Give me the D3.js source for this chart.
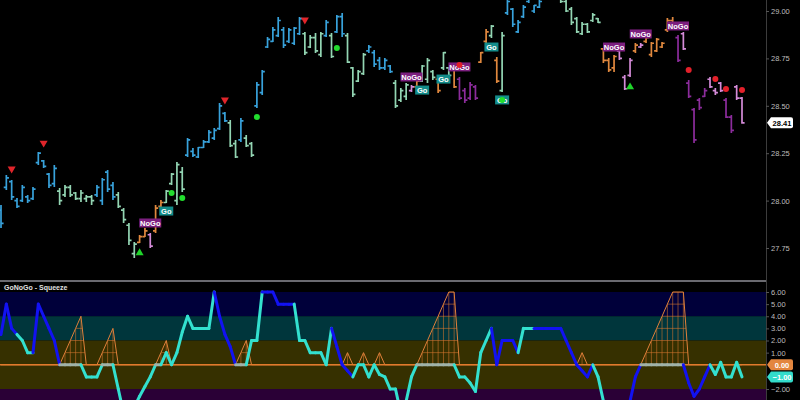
<!DOCTYPE html>
<html><head><meta charset="utf-8">
<script src="https://cdn.jsdelivr.net/npm/d3@7"></script>
<style>html,body{margin:0;background:#000;}svg{display:block}</style>
</head><body><svg id="c" width="800" height="400"></svg>
<script>
// ---------- DATA ----------
const highs=[27.977,28.135,28.109,28.014,28.082,28.030,28.072,28.256,28.214,28.146,
28.188,28.066,28.082,28.082,28.045,28.056,28.030,28.030,28.082,28.119,
28.161,28.098,28.045,27.961,27.882,27.782,27.819,27.856,27.829,27.977,
28.003,28.056,28.146,28.204,28.177,28.330,28.277,28.283,28.320,28.372,
28.383,28.515,28.467,28.425,28.320,28.436,28.346,28.309,28.626,28.689,
28.863,28.916,28.968,28.916,28.910,28.916,28.968,28.889,28.873,28.884,
28.889,28.953,28.884,28.979,28.989,28.884,28.705,28.689,28.778,28.821,
28.794,28.757,28.752,28.715,28.636,28.594,28.620,28.610,28.636,28.715,
28.752,28.689,28.647,28.784,28.705,28.699,28.652,28.594,28.626,28.610,
28.784,28.905,28.926,28.757,28.889,29.058,29.016,28.953,29.032,29.111,
29.032,29.058,29.163,29.137,29.111,29.084,29.058,29.021,28.968,28.942,
28.937,28.989,28.963,28.805,28.752,28.768,28.805,28.662,28.752,28.831,
28.831,28.863,28.837,28.858,28.837,28.963,28.968,28.873,28.889,28.636,
28.488,28.541,28.594,28.652,28.594,28.626,28.541,28.452,28.610,28.546];
const lows=[27.856,28.056,28.003,27.961,27.993,27.987,28.003,28.188,28.172,28.066,
28.072,27.977,28.019,28.019,28.003,27.993,27.993,27.977,28.019,27.977,
28.045,28.003,27.961,27.882,27.766,27.697,27.776,27.808,27.750,27.829,
27.961,27.987,28.082,27.977,28.045,28.230,28.230,28.225,28.277,28.304,
28.320,28.372,28.415,28.283,28.225,28.309,28.283,28.230,28.488,28.557,
28.805,28.837,28.863,28.805,28.831,28.821,28.873,28.768,28.805,28.778,
28.757,28.863,28.752,28.884,28.863,28.726,28.546,28.626,28.662,28.778,
28.705,28.689,28.689,28.673,28.488,28.520,28.531,28.573,28.594,28.626,
28.620,28.636,28.568,28.689,28.652,28.594,28.531,28.515,28.531,28.531,
28.726,28.831,28.858,28.620,28.573,28.979,28.916,28.884,28.963,29.042,
28.989,29.016,29.084,29.058,29.069,29.042,28.995,28.926,28.884,28.873,
28.884,28.942,28.937,28.726,28.678,28.678,28.742,28.583,28.652,28.778,
28.805,28.831,28.757,28.784,28.805,28.889,28.900,28.731,28.794,28.541,
28.304,28.478,28.546,28.594,28.557,28.573,28.436,28.357,28.531,28.405];
const opens=[27.95,28.07,28.10,28.00,28.00,28.02,28.01,28.20,28.21,28.14,
28.09,28.05,28.03,28.07,28.04,28.01,28.01,28.02,28.03,28.00,
28.15,28.08,28.03,27.95,27.87,27.72,27.78,27.81,27.82,27.84,
27.97,27.99,28.09,28.00,28.15,28.24,28.26,28.23,28.28,28.31,
28.33,28.38,28.46,28.41,28.30,28.32,28.33,28.30,28.50,28.57,
28.81,28.84,28.87,28.90,28.84,28.83,28.88,28.88,28.81,28.86,
28.77,28.87,28.87,28.89,28.97,28.87,28.70,28.63,28.67,28.79,
28.78,28.74,28.70,28.71,28.62,28.53,28.55,28.58,28.60,28.63,
28.64,28.68,28.64,28.70,28.70,28.69,28.64,28.58,28.54,28.60,
28.73,28.84,28.87,28.74,28.58,28.99,29.01,28.89,28.97,29.05,
29.00,29.02,29.09,29.13,29.10,29.08,29.05,29.01,28.96,28.88,
28.93,28.95,28.96,28.80,28.74,28.70,28.79,28.65,28.66,28.79,
28.81,28.84,28.77,28.79,28.81,28.90,28.95,28.86,28.88,28.62,
28.48,28.53,28.55,28.64,28.58,28.62,28.53,28.44,28.60,28.54];
const closes=[27.88,28.12,28.02,27.97,28.07,28.00,28.06,28.25,28.18,28.08,
28.17,28.00,28.07,28.03,28.01,28.04,28.02,28.00,28.07,28.11,
28.06,28.02,27.97,27.90,27.79,27.77,27.81,27.84,27.76,27.96,
27.99,28.05,28.14,28.19,28.06,28.32,28.24,28.28,28.31,28.36,
28.37,28.50,28.42,28.29,28.23,28.42,28.29,28.24,28.61,28.68,
28.85,28.90,28.95,28.82,28.90,28.91,28.96,28.78,28.86,28.79,
28.88,28.94,28.76,28.97,28.88,28.73,28.56,28.68,28.77,28.81,
28.72,28.70,28.74,28.68,28.50,28.58,28.61,28.60,28.63,28.71,
28.74,28.65,28.58,28.78,28.66,28.60,28.54,28.53,28.61,28.54,
28.78,28.89,28.92,28.63,28.87,29.05,28.93,28.94,29.02,29.10,
29.03,29.05,29.15,29.07,29.08,29.05,29.00,28.94,28.89,28.93,
28.89,28.98,28.94,28.74,28.69,28.76,28.75,28.59,28.74,28.82,
28.82,28.86,28.83,28.85,28.83,28.95,28.91,28.74,28.80,28.55,
28.32,28.49,28.58,28.60,28.57,28.58,28.44,28.37,28.54,28.41];
// GoNoGo trend state per bar: B strong Go, G weak Go, O weak NoGo, P NoGo, D strong NoGo
const trend=("BBBBBBBBBB"+"BGGGGGGGBB"+"BBGGGGOOPO"+"OGGGGBBBBB"+"BBBGGBGGBB"+
"BBBBBBBGGG"+"GBGBBGGGGB"+"BBBBGGGPOG"+"GGOGGODDDD"+"OOGOGBBBBB"+
"BBBBGGGGGG"+"GGGOOOPPPO"+"POOOOOODPD"+"DDDPPPDDPP").split("");
// oscillator
const osc=[2.5,5,3,2.5,2,1,1,5,4,3,
2,0,0,0,0,0,-1,-1,-1,0,
0,0,-2,-4,-4,-3.5,-2.6,-1.8,-1,0,
0,1,0,1,2.7,4,3,3,3,3,
6,4,2.5,1.5,0,0,0,2,2,6,
6,6,5,5,5,5,2,2,1,1,
1,0,3,1.5,0,-0.5,-1,0,0,-1,
0,-0.8,-1,-2,-2,-4,-3,-1,0,0,
0,0,0,0,0,0,-1,-1,-1.5,-2.2,
1,2,3,0,2,2,2,1,3,3,
3,3,3,3,3,3,2,1,0,-0.5,
-1,0,-1,-3,-4,-4,-4,-4,-3,-1,
0,0,0,0,0,0,0,0,0,-1.5,
-2.6,-2,-1,0,-0.8,0.2,-1,-1,0.2,-1];
// oscillator state: B go-side, C nogo-side, N squeeze at zero
const oscState=("BBBBCCCBBB"+"BBNNNNCCCC"+"NNCCCCCCCC"+"NCCCCCCCCC"+"CBBBBNNCCC"+
"BBBBBBCCCC"+"CCCBBBBCCC"+"CCCCCCCCCN"+"NNNNNNCCCC"+"CCCBBBBBCC"+
"CBBBBBBBBB"+"BBCCCCCBBB"+"BNNNNNNNNB"+"BBBBCCCCCC").split("");
const squeeze=[0,0,0,0,0,0,0,0,0,0,
0,0,1,2,3,4,0,0,0,1,
2,3,0,0,0,0,0,0,0,0,
1,2,0,0,0,0,0,0,0,0,
0,0,0,0,0,1,2,0,0,0,
0,0,0,0,0,0,0,0,0,0,
0,0,0,0,0,1,0,0,1,0,
0,1,0,0,0,0,0,0,0,1,
2,3,4,5,6,6,0,0,0,0,
0,0,0,0,0,0,0,0,0,0,
0,0,0,0,0,0,0,0,0,1,
0,0,0,0,0,0,0,0,0,0,
0,1,2,3,4,5,6,6,6,0,
0,0,0,0,0,0,0,0,0,0];
const downTriangles=[{i:2,p:28.167},{i:8,p:28.304},{i:42,p:28.531},{i:57,p:28.953}];
const upTriangles=[{i:26,p:27.724},{i:118,p:28.599}];
const greenDots=[{i:32,p:28.040},{i:34,p:28.014},{i:48,p:28.441},{i:63,p:28.805},{i:94,p:28.531}];
const redDots=[{i:86,p:28.715},{i:129,p:28.689},{i:134,p:28.641},{i:136,p:28.589},{i:139,p:28.583}];
const signalLabels=[{t:"NoGo",i:28,p:27.882},{t:"Go",i:31,p:27.945},{t:"NoGo",i:77,p:28.652},
{t:"Go",i:79,p:28.583},{t:"Go",i:83,p:28.641},{t:"NoGo",i:86,p:28.705},{t:"Go",i:92,p:28.810},
{t:"Go",i:94,p:28.531},{t:"NoGo",i:115,p:28.810},{t:"NoGo",i:120,p:28.879},{t:"NoGo",i:127,p:28.921}];
const priceTicks=[29.00,28.75,28.50,28.25,28.00,27.75];
const oscTicks=[6,5,4,3,2,1,-2];
const bandEdges=[6,4,2,-2,-8];
const panelTitle="GoNoGo - Squeeze";

// ---------- STYLE ----------
const trendColor={B:"#38a2db",G:"#93d5b3",O:"#e0883e",P:"#d48bd8",D:"#8c2c9c"};
const oscColor={B:"#1212f2",C:"#33e0cf",N:"#a0b2a8"};
const bandFill=["#00003a","#00363c","#363000","#2a0036"];
const F="'Liberation Sans',Arial,sans-serif";

const svg=d3.select("#c");
const R=766;
const N=highs.length;
const x=d3.scaleLinear().domain([0,N-1]).range([1,742]);
const yP=d3.scaleLinear().domain([27.75,29.0]).range([248,11]);
const yO=d3.scaleLinear().domain([-2,6]).range([389,292]);
const fmt=d3.format(".2f");

svg.append("rect").attr("width",800).attr("height",400).attr("fill","#000");
const defs=svg.append("defs");
defs.append("clipPath").attr("id","cp").append("rect").attr("x",0).attr("y",0).attr("width",R).attr("height",280);
defs.append("clipPath").attr("id","co").append("rect").attr("x",0).attr("y",282).attr("width",R).attr("height",118);

// ----- oscillator panel -----
const go=svg.append("g").attr("clip-path","url(#co)");
go.selectAll("rect.band").data(d3.range(bandFill.length)).join("rect")
  .attr("x",0).attr("width",R)
  .attr("y",k=>yO(bandEdges[k])).attr("height",k=>yO(bandEdges[k+1])-yO(bandEdges[k]))
  .attr("fill",k=>bandFill[k]);

// squeeze ladder
const sqArea=d3.area().x((d,i)=>x(i)).y0(yO(0)).y1(d=>yO(d));
defs.append("clipPath").attr("id","sq").append("path").attr("d",sqArea(squeeze));
const gs=go.append("g").attr("clip-path","url(#sq)").attr("stroke-opacity",0.8);
const maxSq=d3.max(squeeze);
gs.selectAll("line.h").data(d3.range(1,maxSq+1)).join("line")
  .attr("x1",0).attr("x2",R).attr("y1",d=>yO(d)).attr("y2",d=>yO(d))
  .attr("stroke","#d9782e").attr("stroke-width",0.7);
gs.selectAll("line.v").data(d3.range(N).filter(i=>squeeze[i]>0)).join("line")
  .attr("x1",i=>x(i)).attr("x2",i=>x(i)).attr("y1",yO(0)).attr("y2",i=>yO(squeeze[i]))
  .attr("stroke","#d9782e").attr("stroke-width",0.7);
go.append("path").attr("d",d3.line().x((d,i)=>x(i)).y(d=>yO(d))(squeeze))
  .attr("fill","none").attr("stroke","#e0803a").attr("stroke-width",1);
// zero line
go.append("line").attr("x1",0).attr("x2",R).attr("y1",yO(0)).attr("y2",yO(0))
  .attr("stroke","#e07a2c").attr("stroke-width",1.5);
// oscillator line
go.selectAll("line.osc").data(d3.range(1,N)).join("line")
  .attr("x1",i=>x(i-1)).attr("y1",i=>yO(osc[i-1])).attr("x2",i=>x(i)).attr("y2",i=>yO(osc[i]))
  .attr("stroke",i=>oscColor[oscState[i]]).attr("stroke-width",3).attr("stroke-linecap","round");

svg.append("text").attr("x",4).attr("y",290).attr("fill","#e0e0e0").attr("font-family",F)
  .attr("font-size",7).attr("font-weight","bold").text(panelTitle);

// separator and axis line
svg.append("line").attr("x1",0).attr("x2",R).attr("y1",281).attr("y2",281).attr("stroke","#6a6a70").attr("stroke-width",2);
svg.append("line").attr("x1",R+0.5).attr("x2",R+0.5).attr("y1",0).attr("y2",400).attr("stroke","#3c3c3c").attr("stroke-width",1);

// ----- price panel -----
const gp=svg.append("g").attr("clip-path","url(#cp)");
gp.selectAll("path.bar").data(d3.range(N)).join("path")
  .attr("d",i=>{const cx=x(i);return `M${cx},${yP(highs[i])}V${yP(lows[i])}M${cx-2.6},${yP(opens[i])}H${cx}M${cx},${yP(closes[i])}H${cx+2.6}`;})
  .attr("fill","none").attr("stroke",i=>trendColor[trend[i]]).attr("stroke-width",1.7);

// signal labels
const lg=gp.selectAll("g.lab").data(signalLabels).join("g")
  .attr("transform",d=>`translate(${x(d.i)},${yP(d.p)})`);
lg.append("rect").attr("x",d=>d.t==="Go"?-7:-11).attr("y",-4.5)
  .attr("width",d=>d.t==="Go"?14:22).attr("height",9)
  .attr("fill",d=>d.t==="Go"?"#138c8a":"#7c1f7f");
lg.append("text").attr("text-anchor","middle").attr("y",3).attr("fill","#fff")
  .attr("font-family",F).attr("font-size",7.5).attr("font-weight","bold").text(d=>d.t);

// markers
const tri=d3.symbol(d3.symbolTriangle).size(28);
gp.selectAll("path.dn").data(downTriangles).join("path").attr("d",tri)
  .attr("transform",d=>`translate(${x(d.i)},${yP(d.p)}) rotate(180)`).attr("fill","#e0252b");
gp.selectAll("path.up").data(upTriangles).join("path").attr("d",tri)
  .attr("transform",d=>`translate(${x(d.i)},${yP(d.p)})`).attr("fill","#1fd42a");
gp.selectAll("circle.gd").data(greenDots).join("circle")
  .attr("cx",d=>x(d.i)).attr("cy",d=>yP(d.p)).attr("r",3).attr("fill","#22dd2e");
gp.selectAll("circle.rd").data(redDots).join("circle")
  .attr("cx",d=>x(d.i)).attr("cy",d=>yP(d.p)).attr("r",3).attr("fill","#e3202a");

// ----- axes -----
const ap=svg.append("g").attr("transform",`translate(${R},0)`)
  .call(d3.axisRight(yP).tickValues(priceTicks).tickFormat(fmt).tickSize(3));
const ao=svg.append("g").attr("transform",`translate(${R},0)`)
  .call(d3.axisRight(yO).tickValues(oscTicks).tickFormat(fmt).tickSize(3));
[ap,ao].forEach(a=>{
  a.select(".domain").remove();
  a.selectAll("line").attr("stroke","#555");
  a.selectAll("text").attr("fill","#bdbdbd").attr("font-family",F).attr("font-size",7.5).attr("x",5);
});

// value tags
function tag(yv,label,bg,fg){
  const g=svg.append("g").attr("transform",`translate(${R+1},${yv})`);
  g.append("path").attr("d","M0,0L4,-5.5H24Q26,-5.5 26,-3.5V3.5Q26,5.5 24,5.5H4Z").attr("fill",bg);
  g.append("text").attr("x",15).attr("y",3).attr("text-anchor","middle").attr("fill",fg)
    .attr("font-family",F).attr("font-size",7.5).attr("font-weight","bold").text(label);
}
tag(yP(closes[N-1]),fmt(closes[N-1]),"#ffffff","#000");
tag(yO(0),fmt(0),"#e3863f","#fff");
tag(yO(osc[N-1]),fmt(osc[N-1]),"#33dccb","#fff");
</script></body></html>
